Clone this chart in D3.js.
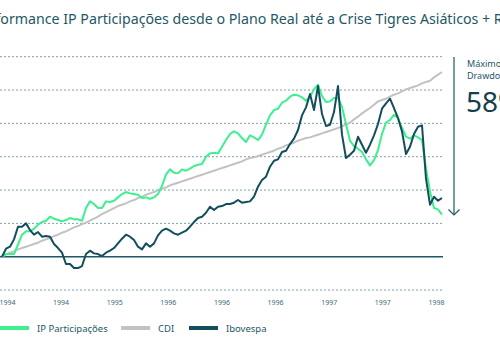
<!DOCTYPE html>
<html>
<head>
<meta charset="utf-8">
<script src="https://cdn.jsdelivr.net/npm/d3@7"></script>
<style>
  body { margin: 0; background: #fff; }
  svg { display: block; font-family: "Noto Sans", "Liberation Sans", sans-serif; }
</style>
</head>
<body>
<div id="chart-area"></div>
<script>
// cumulative return (%) since the start, one value per period
var ipPart = [0, 4, 4, 4, 18, 33, 38, 38, 42, 48, 52, 54, 60, 57, 55, 53, 55, 58, 56, 56,
    54, 73, 83, 79, 73, 73, 83, 82, 84, 89, 94, 97, 95, 94, 93, 88, 89, 87, 89, 94,
    106, 123, 131, 126, 125, 131, 129, 132, 136, 138, 139, 150, 155, 156, 155, 165, 175, 184, 188, 185,
    178, 172, 182, 179, 175, 183, 198, 212, 220, 222, 231, 234, 240, 243, 242, 239, 234, 240, 251, 258,
    241, 232, 233, 238, 238, 225, 199, 174, 166, 162, 157, 146, 137, 145, 160, 184, 201, 205, 213, 208,
    193, 180, 177, 182, 179, 175, 132, 98, 73, 71, 63];

var cdi = [0, 3, 6, 8, 11, 13, 15, 17, 19, 21, 24, 26, 28, 31, 33, 36, 38, 41, 44, 46,
    49, 51, 54, 57, 60, 64, 67, 70, 73, 76, 78, 80, 83, 85, 88, 90, 93, 95, 97, 100,
    102, 104, 107, 109, 111, 113, 115, 117, 119, 121, 123, 125, 127, 129, 131, 133, 135, 137, 139, 141,
    143, 146, 148, 149, 151, 153, 155, 157, 159, 162, 164, 167, 169, 171, 174, 176, 178, 179, 181, 183,
    185, 187, 189, 191, 193, 196, 198, 201, 206, 210, 215, 219, 223, 228, 233, 235, 237, 240, 243, 245,
    248, 251, 253, 255, 257, 260, 262, 264, 269, 273, 277];

var ibovespa = [0, 12, 15, 26, 45, 45, 50, 40, 33, 37, 30, 31, 30, 19, 13, 6, -11, -11, -17, -17,
    -14, 4, 9, 5, 4, 1, 6, 9, 13, 20, 27, 33, 30, 25, 15, 11, 20, 15, 20, 32,
    39, 42, 39, 35, 33, 36, 39, 45, 52, 58, 60, 66, 75, 70, 75, 76, 79, 79, 81, 85,
    81, 82, 83, 90, 105, 115, 120, 135, 144, 146, 157, 159, 169, 177, 190, 212, 224, 244, 220, 256,
    214, 196, 198, 217, 256, 183, 148, 153, 159, 180, 168, 156, 168, 182, 199, 222, 230, 237, 223, 208,
    188, 154, 165, 184, 195, 197, 117, 78, 90, 84, 88];

var yTicks = [-50, 50, 100, 150, 200, 250, 300];
var xLabels = ["1994", "1994", "1995", "1996", "1996", "1996", "1997", "1997", "1998"];

var seriesNames  = ["IP Participações", "CDI", "Ibovespa"];
var seriesColors = ["#3cf08e", "#c2c2c2", "#124e5c"];

var width = 500, height = 350;
var teal = "#1e5866";

var svg = d3.select("#chart-area")
    .append("svg")
        .attr("width", width)
        .attr("height", height);

var x = d3.scaleLinear()
    .domain([0, ipPart.length - 1])
    .range([2, 442]);

var y = d3.scaleLinear()
    .domain([0, 300])
    .range([256.7, 56.7]);

// title (runs off both sides in the original)
svg.append("text")
    .attr("x", -27)
    .attr("y", 24)
    .attr("font-size", "14.2px")
    .attr("fill", teal)
    .text("Performance IP Participações desde o Plano Real até a Crise Tigres Asiáticos + Russa");

// dotted grid
svg.append("g")
    .selectAll("line")
    .data(yTicks)
    .enter()
    .append("line")
        .attr("x1", 0)
        .attr("x2", 443)
        .attr("y1", function(d) { return y(d); })
        .attr("y2", function(d) { return y(d); })
        .attr("stroke", "#7f9fa6")
        .attr("stroke-width", 1)
        .attr("stroke-dasharray", "2,2");

// zero line
svg.append("line")
    .attr("x1", 0)
    .attr("x2", 443)
    .attr("y1", y(0))
    .attr("y2", y(0))
    .attr("stroke", teal)
    .attr("stroke-width", 1.5);

// x labels
var xl = d3.scalePoint()
    .domain(d3.range(xLabels.length))
    .range([7, 436]);

var xAxisCall = d3.axisBottom(xl)
    .tickSize(0)
    .tickFormat(function(i) { return xLabels[i]; });

var xAxis = svg.append("g")
    .attr("class", "x-axis")
    .attr("transform", "translate(0, 297)")
    .call(xAxisCall);
xAxis.select(".domain").remove();
xAxis.selectAll("text")
    .attr("font-size", "7px")
    .attr("font-family", "Noto Sans, sans-serif")
    .attr("fill", "#3c6d78");

// lines
var line = d3.line()
    .x(function(d, i) { return x(i); })
    .y(function(d) { return y(d); });

var allSeries = [cdi, ipPart, ibovespa];
var order = [1, 0, 2];
allSeries.forEach(function(s, k) {
    svg.append("path")
        .datum(s)
        .attr("fill", "none")
        .attr("stroke", seriesColors[order[k]])
        .attr("stroke-width", 2)
        .attr("stroke-linejoin", "round")
        .attr("d", line);
});

// drawdown arrow
svg.append("line")
    .attr("x1", 454).attr("x2", 454)
    .attr("y1", 57).attr("y2", 215)
    .attr("stroke", teal)
    .attr("stroke-width", 1.2);
svg.append("path")
    .attr("d", "M448.5,209.5 L454,215 L459.5,209.5")
    .attr("fill", "none")
    .attr("stroke", teal)
    .attr("stroke-width", 1.2);

svg.append("text")
    .attr("x", 467).attr("y", 67)
    .attr("font-size", "9px")
    .attr("fill", teal)
    .text("Máximo");
svg.append("text")
    .attr("x", 467).attr("y", 79)
    .attr("font-size", "9px")
    .attr("fill", teal)
    .text("Drawdown");
svg.append("text")
    .attr("x", 466).attr("y", 112)
    .attr("font-size", "28px")
    .attr("fill", "#153f4b")
    .text("58%");

// legend
var legendX = [0, 121, 189];
var legend = svg.append("g")
    .attr("transform", "translate(0, 328)");

seriesNames.forEach(function(name, i) {
    legend.append("rect")
        .attr("x", legendX[i])
        .attr("y", -2)
        .attr("width", 29)
        .attr("height", 4)
        .attr("fill", seriesColors[i]);
    legend.append("text")
        .attr("x", legendX[i] + 37)
        .attr("y", 3.5)
        .attr("font-size", "9.5px")
        .attr("fill", teal)
        .text(name);
});
</script>
</body>
</html>
